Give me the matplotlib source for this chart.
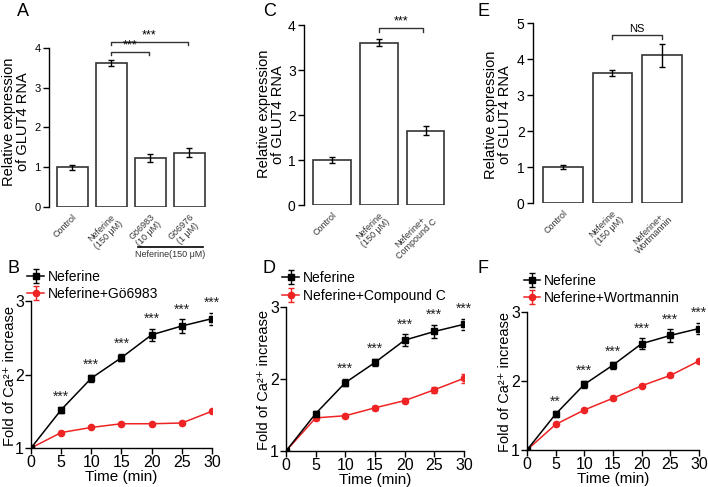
import matplotlib
matplotlib.use("Agg")
import matplotlib.pyplot as plt
import matplotlib.transforms as mtransforms

plt.rcParams['font.family'] = ['Liberation Sans', 'DejaVu Sans']

# bar panels
bar_a_labels = ["Control", "Neferine\n(150 μM)", "Gö6983\n(10 μM)", "Gö6976\n(1 μM)"]
bar_a_vals = [1.0, 3.62, 1.24, 1.37]
bar_a_errs = [0.06, 0.08, 0.10, 0.11]

bar_c_labels = ["Control", "Neferine\n(150 μM)", "Neferine+\nCompound C"]
bar_c_vals = [1.0, 3.61, 1.65]
bar_c_errs = [0.06, 0.08, 0.10]

bar_e_labels = ["Control", "Neferine\n(150 μM)", "Neferine+\nWortmannin"]
bar_e_vals = [1.0, 3.62, 4.10]
bar_e_errs = [0.06, 0.08, 0.33]

# time course panels
times = [0, 5, 10, 15, 20, 25, 30]
nef_vals = [1.0, 1.52, 1.95, 2.23, 2.54, 2.66, 2.76]
nef_errs = [0.0, 0.04, 0.05, 0.05, 0.08, 0.09, 0.08]

go_vals = [1.0, 1.21, 1.28, 1.33, 1.33, 1.34, 1.50]
go_errs = [0.0, 0.01, 0.01, 0.01, 0.01, 0.01, 0.01]
go_stars = ["", "***", "***", "***", "***", "***", "***"]

cc_vals = [1.0, 1.46, 1.49, 1.60, 1.70, 1.85, 2.01]
cc_errs = [0.0, 0.03, 0.02, 0.03, 0.03, 0.04, 0.06]
cc_stars = ["", "", "***", "***", "***", "***", "***"]

wm_vals = [1.0, 1.37, 1.58, 1.75, 1.93, 2.08, 2.29]
wm_errs = [0.0, 0.01, 0.01, 0.03, 0.02, 0.02, 0.03]
wm_stars = ["", "**", "***", "***", "***", "***", "***"]

RED = "#ee2323"
EDGE = "#333333"

fig = plt.figure(figsize=(7.08, 4.87), dpi=100)


def bar_panel(rect, labels, vals, errs, ymax, xright, tickfs, lab_xy):
    ax = fig.add_axes(rect)
    x = list(range(len(vals)))
    ax.bar(x, vals, width=0.8, color="white", edgecolor=EDGE, linewidth=1.2)
    ax.errorbar(x, vals, yerr=errs, fmt="none", ecolor="black", elinewidth=1,
                capsize=2.5, capthick=1)
    ax.set_xlim(-0.6, xright)
    ax.set_ylim(0, ymax)
    ax.set_yticks(range(ymax + 1))
    ax.set_xticks(x)
    ax.set_xticklabels(labels, rotation=45, ha="right", rotation_mode="anchor",
                       fontsize=6.5, multialignment="center", color="#333333",
                       linespacing=1.0)
    ax.tick_params(axis="x", length=0, pad=4)
    ax.tick_params(axis="y", direction="out", length=4, width=1, labelsize=tickfs, pad=2)
    for s in ["top", "right", "bottom"]:
        ax.spines[s].set_visible(False)
    ax.spines["left"].set_linewidth(1)
    ax.set_ylabel("Relative expression\nof GLUT4 RNA", fontsize=10.5, linespacing=1.0)
    ax.yaxis.set_label_coords(*lab_xy)
    return ax


def bracket(ax, x0, x1, y, drop, text, fs=9):
    ax.plot([x0, x0, x1, x1], [y - drop, y, y, y - drop], color="#333333", lw=1,
            clip_on=False)
    ax.text((x0 + x1) / 2, y + drop * 0.3, text, ha="center", va="bottom",
            fontsize=fs, clip_on=False)


def line_panel(rect, other_vals, other_errs, other_label, stars, leg_y, lab_x):
    ax = fig.add_axes(rect)
    ax.errorbar(times, nef_vals, yerr=nef_errs, color="black", marker="s", ms=4.5,
                lw=1.1, capsize=2, elinewidth=1, label="Neferine", zorder=3)
    ax.errorbar(times, other_vals, yerr=other_errs, color=RED, marker="o", ms=4.5,
                lw=1.1, capsize=2, elinewidth=1, label=other_label, zorder=2)
    for t, v, e, s in zip(times, nef_vals, nef_errs, stars):
        if s:
            ax.text(t, v + e + 0.04, s, ha="center", va="bottom", fontsize=10,
                    color="#222222", clip_on=False)
    ax.set_xlim(0, 30)
    ax.set_ylim(1, 3)
    ax.set_xticks(times)
    ax.set_yticks([1, 2, 3])
    ax.tick_params(direction="out", length=4, width=1, labelsize=11.5, pad=1)
    for s in ["top", "right"]:
        ax.spines[s].set_visible(False)
    ax.spines["left"].set_linewidth(1)
    ax.spines["bottom"].set_linewidth(1)
    ax.set_xlabel("Time (min)", fontsize=11, labelpad=0)
    ax.set_ylabel("Fold of Ca²⁺ increase", fontsize=10.5)
    ax.yaxis.set_label_coords(lab_x, 0.49)
    ax.legend(loc="lower left", bbox_to_anchor=(-0.02, leg_y), frameon=False,
              fontsize=10, handlelength=1.2, handletextpad=0.3, labelspacing=0.25,
              borderpad=0, borderaxespad=0)
    return ax


# A
axA = bar_panel([0.0692, 0.575, 0.226, 0.3265], bar_a_labels, bar_a_vals, bar_a_errs,
                4, 3.5, 8, (-0.12, 0.535))
bracket(axA, 1, 1.95, 3.9, 0.08, "***")
bracket(axA, 1, 2.95, 4.15, 0.08, "***")
trA = mtransforms.blended_transform_factory(axA.transData, axA.transAxes)
axA.plot([1.68, 3.35], [-0.25, -0.25], color="black", lw=1.2, transform=trA,
         clip_on=False)
axA.text(2.5, -0.27, "Neferine(150 μM)", transform=trA, ha="center", va="top",
         fontsize=6.5, color="#333333")

# C
axC = bar_panel([0.4294, 0.579, 0.2034, 0.3696], bar_c_labels, bar_c_vals, bar_c_errs,
                4, 2.48, 10, (-0.13, 0.505))
bracket(axC, 1, 1.95, 3.93, 0.08, "***")

# E
axE = bar_panel([0.7528, 0.583, 0.216, 0.3696], bar_e_labels, bar_e_vals, bar_e_errs,
                5, 2.48, 10, (-0.135, 0.49))
bracket(axE, 1, 2.0, 4.67, 0.1, "NS", fs=8)

# B, D, F
line_panel([0.0438, 0.0801, 0.2556, 0.3018], go_vals, go_errs, "Neferine+Gö6983",
           go_stars, 1.0, -0.08)
line_panel([0.4040, 0.0739, 0.2514, 0.2957], cc_vals, cc_errs, "Neferine+Compound C",
           cc_stars, 1.03, -0.085)
line_panel([0.7443, 0.0760, 0.2429, 0.2834], wm_vals, wm_errs, "Neferine+Wortmannin",
           wm_stars, 1.05, -0.088)

for lab, x, y in [("A", 0.024, 0.994), ("C", 0.371, 0.994), ("E", 0.674, 0.994),
                  ("B", 0.010, 0.467), ("D", 0.371, 0.467), ("F", 0.674, 0.467)]:
    fig.text(x, y, lab, fontsize=13, va="top", ha="left")

fig.savefig("out.png", dpi=100)
